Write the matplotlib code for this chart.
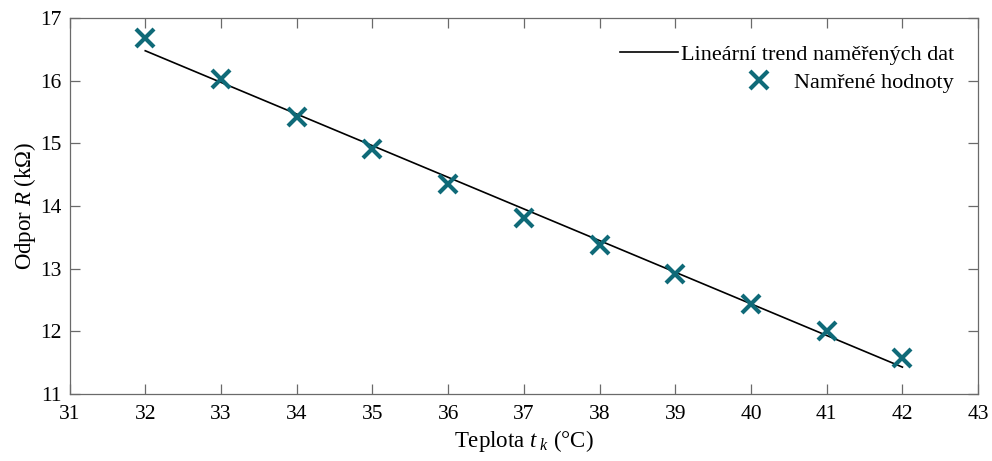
import numpy as np
import matplotlib
matplotlib.use("Agg")
import matplotlib.pyplot as plt

# Data
temperature = [32, 33, 34, 35, 36, 37, 38, 39, 40, 41, 42]
resistance = [16.68, 16.02, 15.415, 14.91, 14.35, 13.81, 13.38, 12.91, 12.44, 12.00, 11.57]
x_ticks = [31, 32, 33, 34, 35, 36, 37, 38, 39, 40, 41, 42, 43]
y_ticks = [11, 12, 13, 14, 15, 16, 17]
trend_label = "Lineární trend naměřených dat"
points_label = "Namřené hodnoty"

plt.rcParams['font.family'] = ['Liberation Serif', 'DejaVu Serif']
plt.rcParams['mathtext.fontset'] = 'custom'
plt.rcParams['mathtext.rm'] = 'Liberation Serif'
plt.rcParams['mathtext.it'] = 'Liberation Serif:italic'

fig = plt.figure(figsize=(9.92, 4.61), dpi=100)
ax = fig.add_axes([0.0701, 0.1453, 0.9159, 0.8157])

# Trend line (least squares fit of the measured values)
coef = np.polyfit(temperature, resistance, 1)
tx = np.array([temperature[0], temperature[-1]])
line, = ax.plot(tx, np.polyval(coef, tx), color='black', lw=1.2)
pts, = ax.plot(temperature, resistance, linestyle='none', marker='x',
               color='#0f6a78', markersize=13, markeredgewidth=3)

ax.set_xlim(31, 43)
ax.set_ylim(11, 17)
ax.set_xticks(x_ticks)
ax.set_yticks(y_ticks)

axis_col = '#6a6a6a'
for s in ax.spines.values():
    s.set_color(axis_col)
    s.set_linewidth(0.9)
ax.tick_params(direction='in', top=True, right=True, length=7, width=0.9,
               color=axis_col, labelsize=15.5, labelcolor='black')
ax.tick_params(axis='x', pad=8)
ax.tick_params(axis='y', pad=6)

ax.set_xlabel(r'Teplota $t_{\ k}$ (°C)', fontsize=16.5, labelpad=3)
ax.set_ylabel(r'Odpor $R$ (kΩ)', fontsize=16.5, labelpad=1)

leg1 = ax.legend([line], [trend_label], loc='upper right',
                 bbox_to_anchor=(0.9736, 0.93), frameon=False, fontsize=16,
                 borderpad=0, borderaxespad=0, handlelength=2.6, handletextpad=0.15)
ax.add_artist(leg1)
leg2 = ax.legend([pts], [points_label], loc='upper right',
                 bbox_to_anchor=(0.9736, 0.855), frameon=False, fontsize=16,
                 borderpad=0, borderaxespad=0, handlelength=1.2, handletextpad=1.0)

fig.savefig('out.png', dpi=100)
